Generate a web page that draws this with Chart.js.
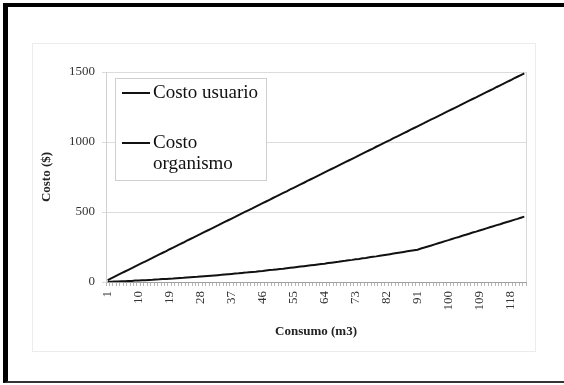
<!DOCTYPE html>
<html>
<head>
<meta charset="utf-8">
<script src="https://cdn.jsdelivr.net/npm/chart.js@4/dist/chart.umd.min.js"></script>
<style>
  html, body { margin: 0; padding: 0; background: #fff; }
  #wrap { position: relative; width: 564px; height: 385px; overflow: hidden; }
  #frame { position: absolute; left: 3px; top: 3px; width: 570px; height: 374px;
           border-left: 5px solid #000; border-top: 4px solid #000; border-bottom: 2px solid #333; }
  canvas { position: absolute; left: 0; top: 0; }
</style>
</head>
<body>
<div id="wrap">
  <div id="frame"></div>
  <canvas id="c" width="564" height="385"></canvas>
</div>
<script>
// Consumo en m3 (una categoría por m3)
const CONSUMO = [
  1, 2, 3, 4, 5, 6, 7, 8, 9, 10, 11, 12, 13, 14, 15, 16, 17, 18, 19, 20,
  21, 22, 23, 24, 25, 26, 27, 28, 29, 30, 31, 32, 33, 34, 35, 36, 37, 38, 39, 40,
  41, 42, 43, 44, 45, 46, 47, 48, 49, 50, 51, 52, 53, 54, 55, 56, 57, 58, 59, 60,
  61, 62, 63, 64, 65, 66, 67, 68, 69, 70, 71, 72, 73, 74, 75, 76, 77, 78, 79, 80,
  81, 82, 83, 84, 85, 86, 87, 88, 89, 90, 91, 92, 93, 94, 95, 96, 97, 98, 99, 100,
  101, 102, 103, 104, 105, 106, 107, 108, 109, 110, 111, 112, 113, 114, 115, 116, 117, 118, 119, 120,
  121, 122
];

// Etiquetas visibles del eje de consumo
const TICK_LABELS = [1, 10, 19, 28, 37, 46, 55, 64, 73, 82, 91, 100, 109, 118];

// Costo ($) para el usuario
const COSTO_USUARIO = [
  14, 26, 38, 51, 63, 75, 87, 99, 112, 124, 136, 148, 160, 172, 185, 197, 209, 221, 234, 246,
  258, 270, 282, 295, 307, 319, 331, 343, 356, 368, 380, 392, 404, 417, 429, 441, 453, 465, 478, 490,
  502, 514, 526, 539, 551, 563, 575, 587, 600, 612, 624, 636, 648, 661, 673, 685, 697, 709, 722, 734,
  746, 758, 770, 783, 795, 807, 819, 831, 844, 856, 868, 880, 892, 905, 917, 929, 941, 953, 966, 978,
  990, 1002, 1014, 1027, 1039, 1051, 1063, 1075, 1088, 1100, 1112, 1124, 1136, 1149, 1161, 1173, 1185, 1197, 1210, 1222,
  1234, 1246, 1258, 1271, 1283, 1295, 1307, 1319, 1332, 1344, 1356, 1368, 1380, 1393, 1405, 1417, 1429, 1441, 1454, 1466,
  1478, 1490
];

// Costo ($) para el organismo operador
const COSTO_ORGANISMO = [
  1, 2, 3, 4, 5, 6, 7, 8, 10, 11, 12, 13, 15, 16, 18, 19, 21, 22, 24, 25,
  27, 29, 30, 32, 34, 36, 37, 39, 41, 43, 45, 47, 49, 51, 54, 56, 58, 60, 62, 65,
  67, 70, 72, 74, 77, 79, 82, 85, 87, 90, 93, 95, 98, 101, 104, 107, 110, 113, 116, 119,
  122, 125, 128, 131, 135, 138, 141, 144, 148, 151, 155, 158, 162, 165, 169, 172, 176, 180, 183, 187,
  191, 195, 199, 203, 207, 211, 215, 219, 223, 227, 231, 239, 246, 254, 261, 269, 277, 284, 292, 299,
  307, 315, 322, 330, 337, 345, 353, 360, 368, 375, 383, 391, 398, 406, 413, 421, 429, 436, 444, 451,
  459, 467
];

const SERIF = '"Liberation Serif", "Times New Roman", serif';

// Marco gris claro del área del gráfico y borde derecho del área de trazado
const frames = {
  id: 'frames',
  beforeDraw(chart) {
    const ctx = chart.ctx;
    ctx.save();
    ctx.strokeStyle = '#ececec';
    ctx.lineWidth = 1;
    ctx.strokeRect(32.5, 43.5, 503, 308);
    ctx.restore();
  },
  beforeDatasetsDraw(chart) {
    const { ctx, chartArea } = chart;
    ctx.save();
    ctx.strokeStyle = '#d8d8d8';
    ctx.lineWidth = 1;
    ctx.beginPath();
    ctx.moveTo(Math.round(chartArea.right) + 0.5, chartArea.top);
    ctx.lineTo(Math.round(chartArea.right) + 0.5, chartArea.bottom);
    ctx.stroke();
    ctx.restore();
  }
};

// Leyenda en recuadro dentro del área de trazado
function wrapWords(ctx, text, maxWidth) {
  const words = text.split(' ');
  const lines = [];
  let cur = '';
  for (const w of words) {
    const test = cur ? cur + ' ' + w : w;
    if (cur && ctx.measureText(test).width > maxWidth) {
      lines.push(cur);
      cur = w;
    } else {
      cur = test;
    }
  }
  if (cur) lines.push(cur);
  return lines;
}

const legendBox = {
  id: 'legendBox',
  afterDraw(chart) {
    const ctx = chart.ctx;
    const box = { left: 115, top: 78, width: 151, height: 102 };
    const rowsY = [93, 143];
    ctx.save();
    ctx.fillStyle = '#fff';
    ctx.fillRect(box.left, box.top, box.width, box.height);
    ctx.strokeStyle = '#cfcfcf';
    ctx.lineWidth = 1;
    ctx.strokeRect(box.left + 0.5, box.top + 0.5, box.width, box.height);
    ctx.font = '19px ' + SERIF;
    ctx.textBaseline = 'middle';
    ctx.textAlign = 'left';
    chart.data.datasets.forEach((ds, i) => {
      const y = rowsY[i];
      ctx.strokeStyle = ds.borderColor;
      ctx.lineWidth = 2;
      ctx.beginPath();
      ctx.moveTo(122, y);
      ctx.lineTo(150, y);
      ctx.stroke();
      ctx.fillStyle = '#111';
      wrapWords(ctx, ds.label, 112).forEach((t, j) => ctx.fillText(t, 153, y + j * 21));
    });
    ctx.restore();
  }
};

new Chart(document.getElementById('c'), {
  type: 'line',
  data: {
    labels: CONSUMO,
    datasets: [
      { label: 'Costo usuario', data: COSTO_USUARIO, borderColor: '#111', borderWidth: 2 },
      { label: 'Costo organismo', data: COSTO_ORGANISMO, borderColor: '#111', borderWidth: 2 }
    ]
  },
  options: {
    responsive: false,
    animation: false,
    devicePixelRatio: 1,
    layout: { padding: { left: 0, top: 72, right: 38, bottom: 0 } },
    elements: { point: { radius: 0 }, line: { tension: 0 } },
    plugins: { legend: { display: false }, tooltip: { enabled: false } },
    scales: {
      x: {
        type: 'category',
        offset: true,
        grid: { display: true, drawOnChartArea: false, drawTicks: true, tickLength: 4, color: '#b5b5b5', offset: true },
        border: { display: true, color: '#a0a0a0' },
        ticks: {
          autoSkip: false,
          minRotation: 90,
          maxRotation: 90,
          padding: 5,
          color: '#333',
          font: { family: SERIF, size: 13 },
          callback(value) {
            const lab = this.getLabelForValue(value);
            return TICK_LABELS.includes(Number(lab)) ? String(lab) : '';
          }
        },
        title: {
          display: true,
          text: 'Consumo (m3)',
          color: '#222',
          font: { family: SERIF, size: 13, weight: 'bold' },
          padding: { top: 0, bottom: 46 }
        },
        afterFit(scale) { scale.height = 103; }
      },
      y: {
        min: 0,
        max: 1500,
        grid: { color: '#dcdcdc', tickLength: 4, drawTicks: true },
        border: { display: true, color: '#d0d0d0' },
        ticks: {
          stepSize: 500,
          padding: 7,
          color: '#333',
          font: { family: SERIF, size: 13 },
          callback(value) { return String(value); }
        },
        title: {
          display: true,
          text: 'Costo ($)',
          color: '#222',
          font: { family: SERIF, size: 13, weight: 'bold' },
          padding: { top: 39, bottom: 0 }
        },
        afterFit(scale) { scale.width = 106; }
      }
    }
  },
  plugins: [frames, legendBox]
});
</script>
</body>
</html>
